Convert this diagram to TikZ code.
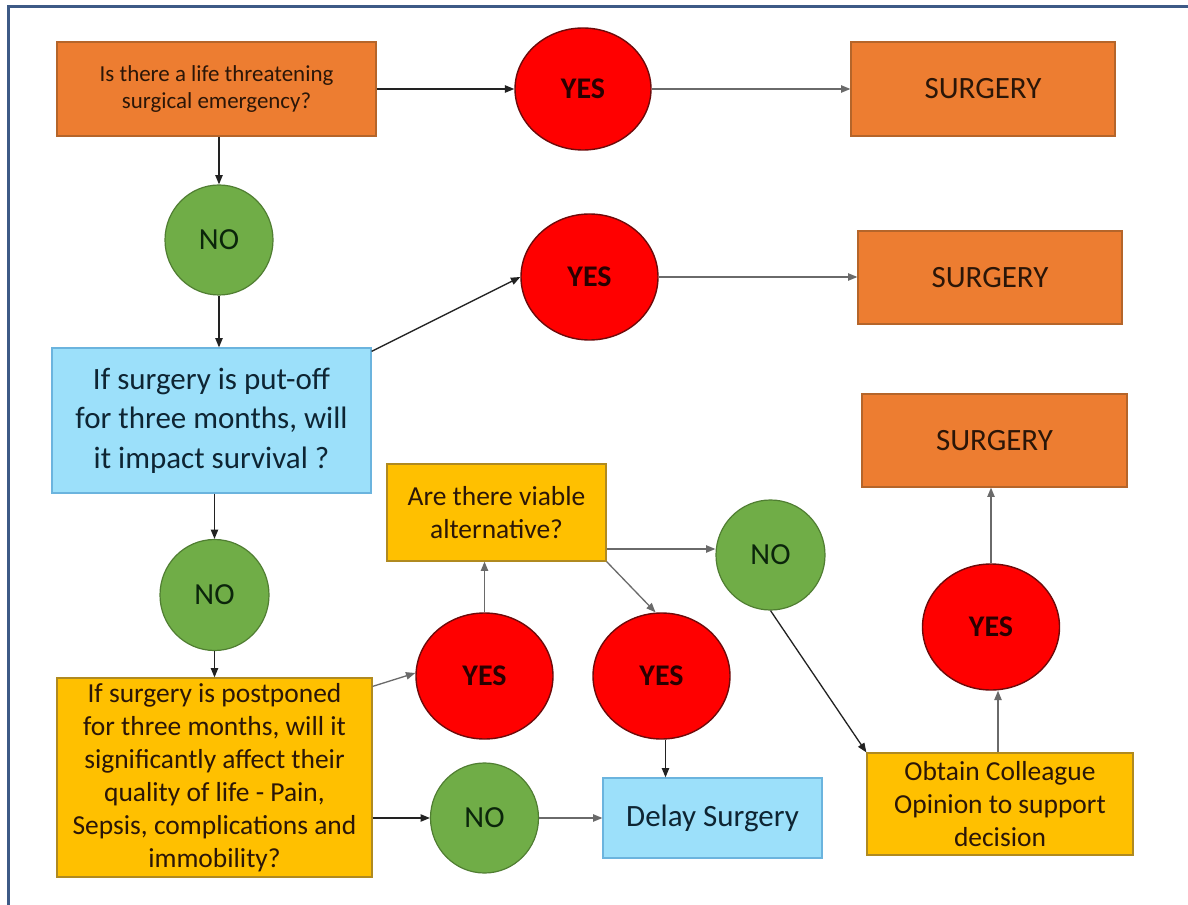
\documentclass[tikz,border=0pt]{standalone}
\usepackage{fontspec}
\setmainfont{Carlito}
\usetikzlibrary{shapes.geometric,arrows.meta}
\newdimen\px \px=0.75pt
\definecolor{orangefill}{HTML}{ED7D31}
\definecolor{orangeline}{HTML}{B5652A}
\definecolor{yellowfill}{HTML}{FFC000}
\definecolor{yellowline}{HTML}{B08A20}
\definecolor{bluefill}{HTML}{9CE0FA}
\definecolor{blueline}{HTML}{6BB4DE}
\definecolor{redfill}{HTML}{FF0000}
\definecolor{redline}{HTML}{6E0A0A}
\definecolor{greenfill}{HTML}{70AD47}
\definecolor{greenline}{HTML}{507E32}
\definecolor{frame}{HTML}{3D5A86}
\definecolor{txtwarm}{HTML}{2B1608}
\definecolor{txtblue}{HTML}{0E2533}
\definecolor{txtyes}{HTML}{2A0000}
\definecolor{txtno}{HTML}{0B250B}
\definecolor{arrowdark}{HTML}{222222}
\definecolor{arrowgrey}{HTML}{6A6A6A}
\tikzset{
  box/.style={rectangle, draw, line width=1.2\px, inner sep=0pt, align=center},
  orangebox/.style={box, fill=orangefill, draw=orangeline, text=txtwarm},
  yellowbox/.style={box, fill=yellowfill, draw=yellowline, text=txtwarm},
  bluebox/.style={box, fill=bluefill, draw=blueline, text=txtblue},
  yesnode/.style={ellipse, draw=redline, fill=redfill, line width=1.4\px, inner sep=0pt, text=txtyes,
     font=\fontsize{22.5}{26}\selectfont\bfseries},
  nonode/.style={ellipse, draw=greenline, fill=greenfill, line width=1.2\px, inner sep=0pt, text=txtno,
     font=\fontsize{23}{27}\selectfont},
  conn/.style={draw=arrowdark, line width=1.3\px, -{Triangle[length=7pt,width=5.5pt]}},
  conngrey/.style={conn, draw=arrowgrey},
  bigtxt/.style={font=\fontsize{23.25}{29.5}\selectfont},
  midtxt/.style={font=\fontsize{20.6}{24.8}\selectfont},
  smalltxt/.style={font=\fontsize{17.2}{20.3}\selectfont}
}
\begin{document}
\begin{tikzpicture}[x=0.75pt,y=-0.75pt]
\useasboundingbox[fill=white] (0,0) rectangle (1188,905);
% frame
\draw[frame, line width=3\px] (8,905) -- (8,7) -- (1188,7);

% nodes
\node[orangebox, smalltxt, minimum width=319\px, minimum height=94\px] (q1) at (216.5,89) {Is there a life threatening\\surgical emergency?};
\node[yesnode, minimum width=136\px, minimum height=122\px] (yes1) at (583,89) {YES};
\node[orangebox, bigtxt, minimum width=264\px, minimum height=94\px] (s1) at (983,89) {SURGERY};
\node[nonode, minimum width=108\px, minimum height=110\px] (no1) at (219,240) {NO};
\node[bluebox, bigtxt, minimum width=319\px, minimum height=145\px] (q2) at (211.5,420.5) {If surgery is put-off\\for three months, will\\it impact survival ?};
\node[yesnode, minimum width=137\px, minimum height=126\px] (yes2) at (589.5,277) {YES};
\node[orangebox, bigtxt, minimum width=264\px, minimum height=93\px] (s2) at (990,277.5) {SURGERY};
\node[orangebox, bigtxt, minimum width=265\px, minimum height=93\px] (s3) at (994.5,440.5) {SURGERY};
\node[yellowbox, midtxt, minimum width=219\px, minimum height=97\px] (av) at (496.5,512.5) {Are there viable\\alternative?};
\node[nonode, minimum width=109\px, minimum height=111\px] (no2) at (214.5,595) {NO};
\node[nonode, minimum width=109\px, minimum height=110\px] (no3) at (770.5,555) {NO};
\node[yesnode, minimum width=137\px, minimum height=126\px] (yes5) at (991,627) {YES};
\node[yesnode, minimum width=137\px, minimum height=126\px] (yes3) at (484.5,676) {YES};
\node[yesnode, minimum width=137\px, minimum height=126\px] (yes4) at (661.5,676) {YES};
\node[yellowbox, midtxt, minimum width=315\px, minimum height=199\px] (q3) at (214.5,777.5) {If surgery is postponed\\for three months, will it\\significantly affect their\\quality of life - Pain,\\Sepsis, complications and\\immobility?};
\node[nonode, minimum width=108\px, minimum height=110\px] (no4) at (484.5,818) {NO};
\node[bluebox, bigtxt, minimum width=219\px, minimum height=80\px] (delay) at (712.5,818) {Delay Surgery};
\node[yellowbox, midtxt, minimum width=266\px, minimum height=102\px] (obt) at (1000,804) {Obtain Colleague\\Opinion to support\\decision};

% connectors
\draw[conn] (q1.east) -- (yes1.west);
\draw[conngrey] (yes1.east) -- (s1.west);
\draw[conn] (q1.south -| no1.north) -- (no1.north);
\draw[conn] (no1.south) -- (no1.south |- q2.north);
\draw[conn] ([yshift=-4\px]q2.north east) -- (yes2.west);
\draw[conngrey] (yes2.east) -- (yes2.east -| s2.west);
\draw[conn] (q2.south -| no2.north) -- (no2.north);
\draw[conn] (no2.south) -- (no2.south |- q3.north);
\draw[conngrey] ([yshift=-9\px]q3.north east) -- ([yshift=3\px]yes3.west);
\draw[conngrey] (yes3.north) -- (yes3.north |- av.south);
\draw[conngrey] ([yshift=-36.5\px]av.east) -- ([yshift=-36.5\px]av.east -| no3.west);
\draw[conngrey] (av.south east) -- ([xshift=-6\px]yes4.north);
\draw[conn] ([xshift=4\px]yes4.south) -- ([xshift=4\px]yes4.south |- delay.north);
\draw[conn] (q3.east |- no4.west) -- (no4.west);
\draw[conngrey] (no4.east) -- (delay.west);
\draw[conn] (no3.south) -- (obt.north west);
\draw[conngrey] ([xshift=-2\px]obt.north) -- ([xshift=-2\px]obt.north |- yes5.south);
\draw[conngrey] (yes5.north) -- (yes5.north |- s3.south);
\end{tikzpicture}
\end{document}
